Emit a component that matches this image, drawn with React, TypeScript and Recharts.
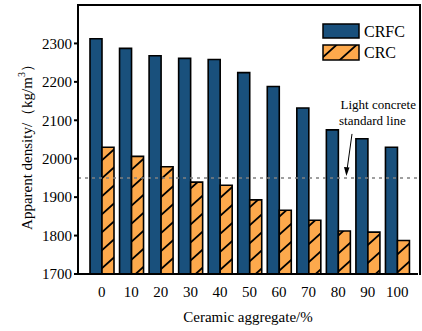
import { Bar, BarChart, Label, ReferenceLine, XAxis, YAxis } from "recharts"

const categories = ["0", "10", "20", "30", "40", "50", "60", "70", "80", "90", "100"]
const crfc = [2312, 2287, 2268, 2261, 2258, 2224, 2188, 2132, 2075, 2052, 2030]
const crc = [2030, 2006, 1979, 1939, 1931, 1893, 1866, 1840, 1812, 1809, 1787]
const yTicks = [1700, 1800, 1900, 2000, 2100, 2200, 2300]
const standardLine = 1950

const data = categories.map((c, i) => ({ name: c, CRFC: crfc[i], CRC: crc[i] }))

const FONT = "'Liberation Serif', 'Times New Roman', serif"
const BLUE = "#19507c"
const ORANGE = "#fda94c"

// diagonal "/" hatch, roughly 18px vertical period
function Hatch({ id }: { id: string }) {
  return (
    <pattern id={id} width="20" height="18" patternUnits="userSpaceOnUse">
      <rect width="20" height="18" fill={ORANGE} />
      <path d="M0,18 L20,0 M-2,1.8 L2,-1.8 M18,19.8 L22,16.2" stroke="#000" strokeWidth={1.8} />
    </pattern>
  )
}

function YLabel(props: any) {
  const { viewBox } = props
  const cx = 27
  const cy = viewBox.y + viewBox.height / 2 + 4
  return (
    <text
      x={cx}
      y={cy}
      transform={`rotate(-90 ${cx} ${cy})`}
      textAnchor="middle"
      dominantBaseline="central"
      fontFamily={FONT}
      fontSize={15}
      fill="#000"
    >
      Apparent density/（kg/m<tspan dy={-6} fontSize={10}>3</tspan>
      <tspan dy={6}>）</tspan>
    </text>
  )
}

function LineNote(props: any) {
  const { viewBox } = props
  const right = viewBox.x + viewBox.width
  const ly = viewBox.y
  return (
    <g fontFamily={FONT} fontSize={13} fill="#000">
      <text x={right - 2} y={ly - 69} textAnchor="end">Light concrete</text>
      <text x={right - 79} y={ly - 53} textAnchor="start">standard line</text>
      <line x1={right - 66} y1={ly - 44} x2={right - 71} y2={ly - 8} stroke="#000" strokeWidth={1} />
      <path d={`M${right - 71.6},${ly - 2} L${right - 74},${ly - 11} L${right - 68.5},${ly - 10.5} Z`} fill="#000" />
    </g>
  )
}

function LegendBox() {
  return (
    <svg width={96} height={44} style={{ position: "absolute", left: 322, top: 22 }}>
      <defs>
        <Hatch id="hatchLeg" />
      </defs>
      <rect x={1} y={2} width={36} height={14} fill={BLUE} stroke="#000" strokeWidth={1.5} />
      <rect x={1} y={23} width={36} height={15} fill="url(#hatchLeg)" stroke="#000" strokeWidth={1.5} />
      <text x={42} y={15} fontFamily={FONT} fontSize={16}>CRFC</text>
      <text x={42} y={36} fontFamily={FONT} fontSize={16}>CRC</text>
    </svg>
  )
}

export default function App() {
  return (
    <div style={{ position: "absolute", left: 0, top: 0, width: 422, height: 331, background: "#fff" }}>
      <BarChart
        width={422}
        height={331}
        data={data}
        margin={{ top: 5, right: 4, left: 0, bottom: 0 }}
        barGap={0}
        barSize={12}
      >
        <defs>
          <Hatch id="hatch" />
        </defs>
        <XAxis
          dataKey="name"
          height={57}
          padding={{ left: 9, right: 6 }}
          interval={0}
          tickLine={false}
          axisLine={{ stroke: "#000", strokeWidth: 2 }}
          tick={{ fill: "#000", fontSize: 15, fontFamily: FONT }}
          tickMargin={6}
        >
          <Label
            value="Ceramic aggregate/%"
            position="insideBottom"
            offset={9}
            style={{ fill: "#000", fontSize: 15, fontFamily: FONT }}
          />
        </XAxis>
        <YAxis
          width={78}
          domain={[1700, 2400]}
          ticks={yTicks}
          interval={0}
          tickSize={4}
          tickLine={{ stroke: "#000", strokeWidth: 2 }}
          axisLine={{ stroke: "#000", strokeWidth: 2 }}
          tick={{ fill: "#000", fontSize: 15, fontFamily: FONT }}
          tickMargin={2}
          allowDataOverflow
        >
          <Label content={<YLabel />} />
        </YAxis>
        <Bar dataKey="CRFC" fill={BLUE} stroke="#000" strokeWidth={1.6} isAnimationActive={false} />
        <Bar dataKey="CRC" fill="url(#hatch)" stroke="#000" strokeWidth={1.6} isAnimationActive={false} />
        <ReferenceLine
          y={standardLine}
          stroke="#808080"
          strokeWidth={1.5}
          strokeDasharray="3 4"
          label={<LineNote />}
        />
      </BarChart>
      <div
        style={{
          position: "absolute",
          left: 77,
          top: 4,
          width: 340,
          height: 269,
          border: "2px solid #000",
          borderBottom: "none",
          pointerEvents: "none",
        }}
      />
      <LegendBox />
    </div>
  )
}
